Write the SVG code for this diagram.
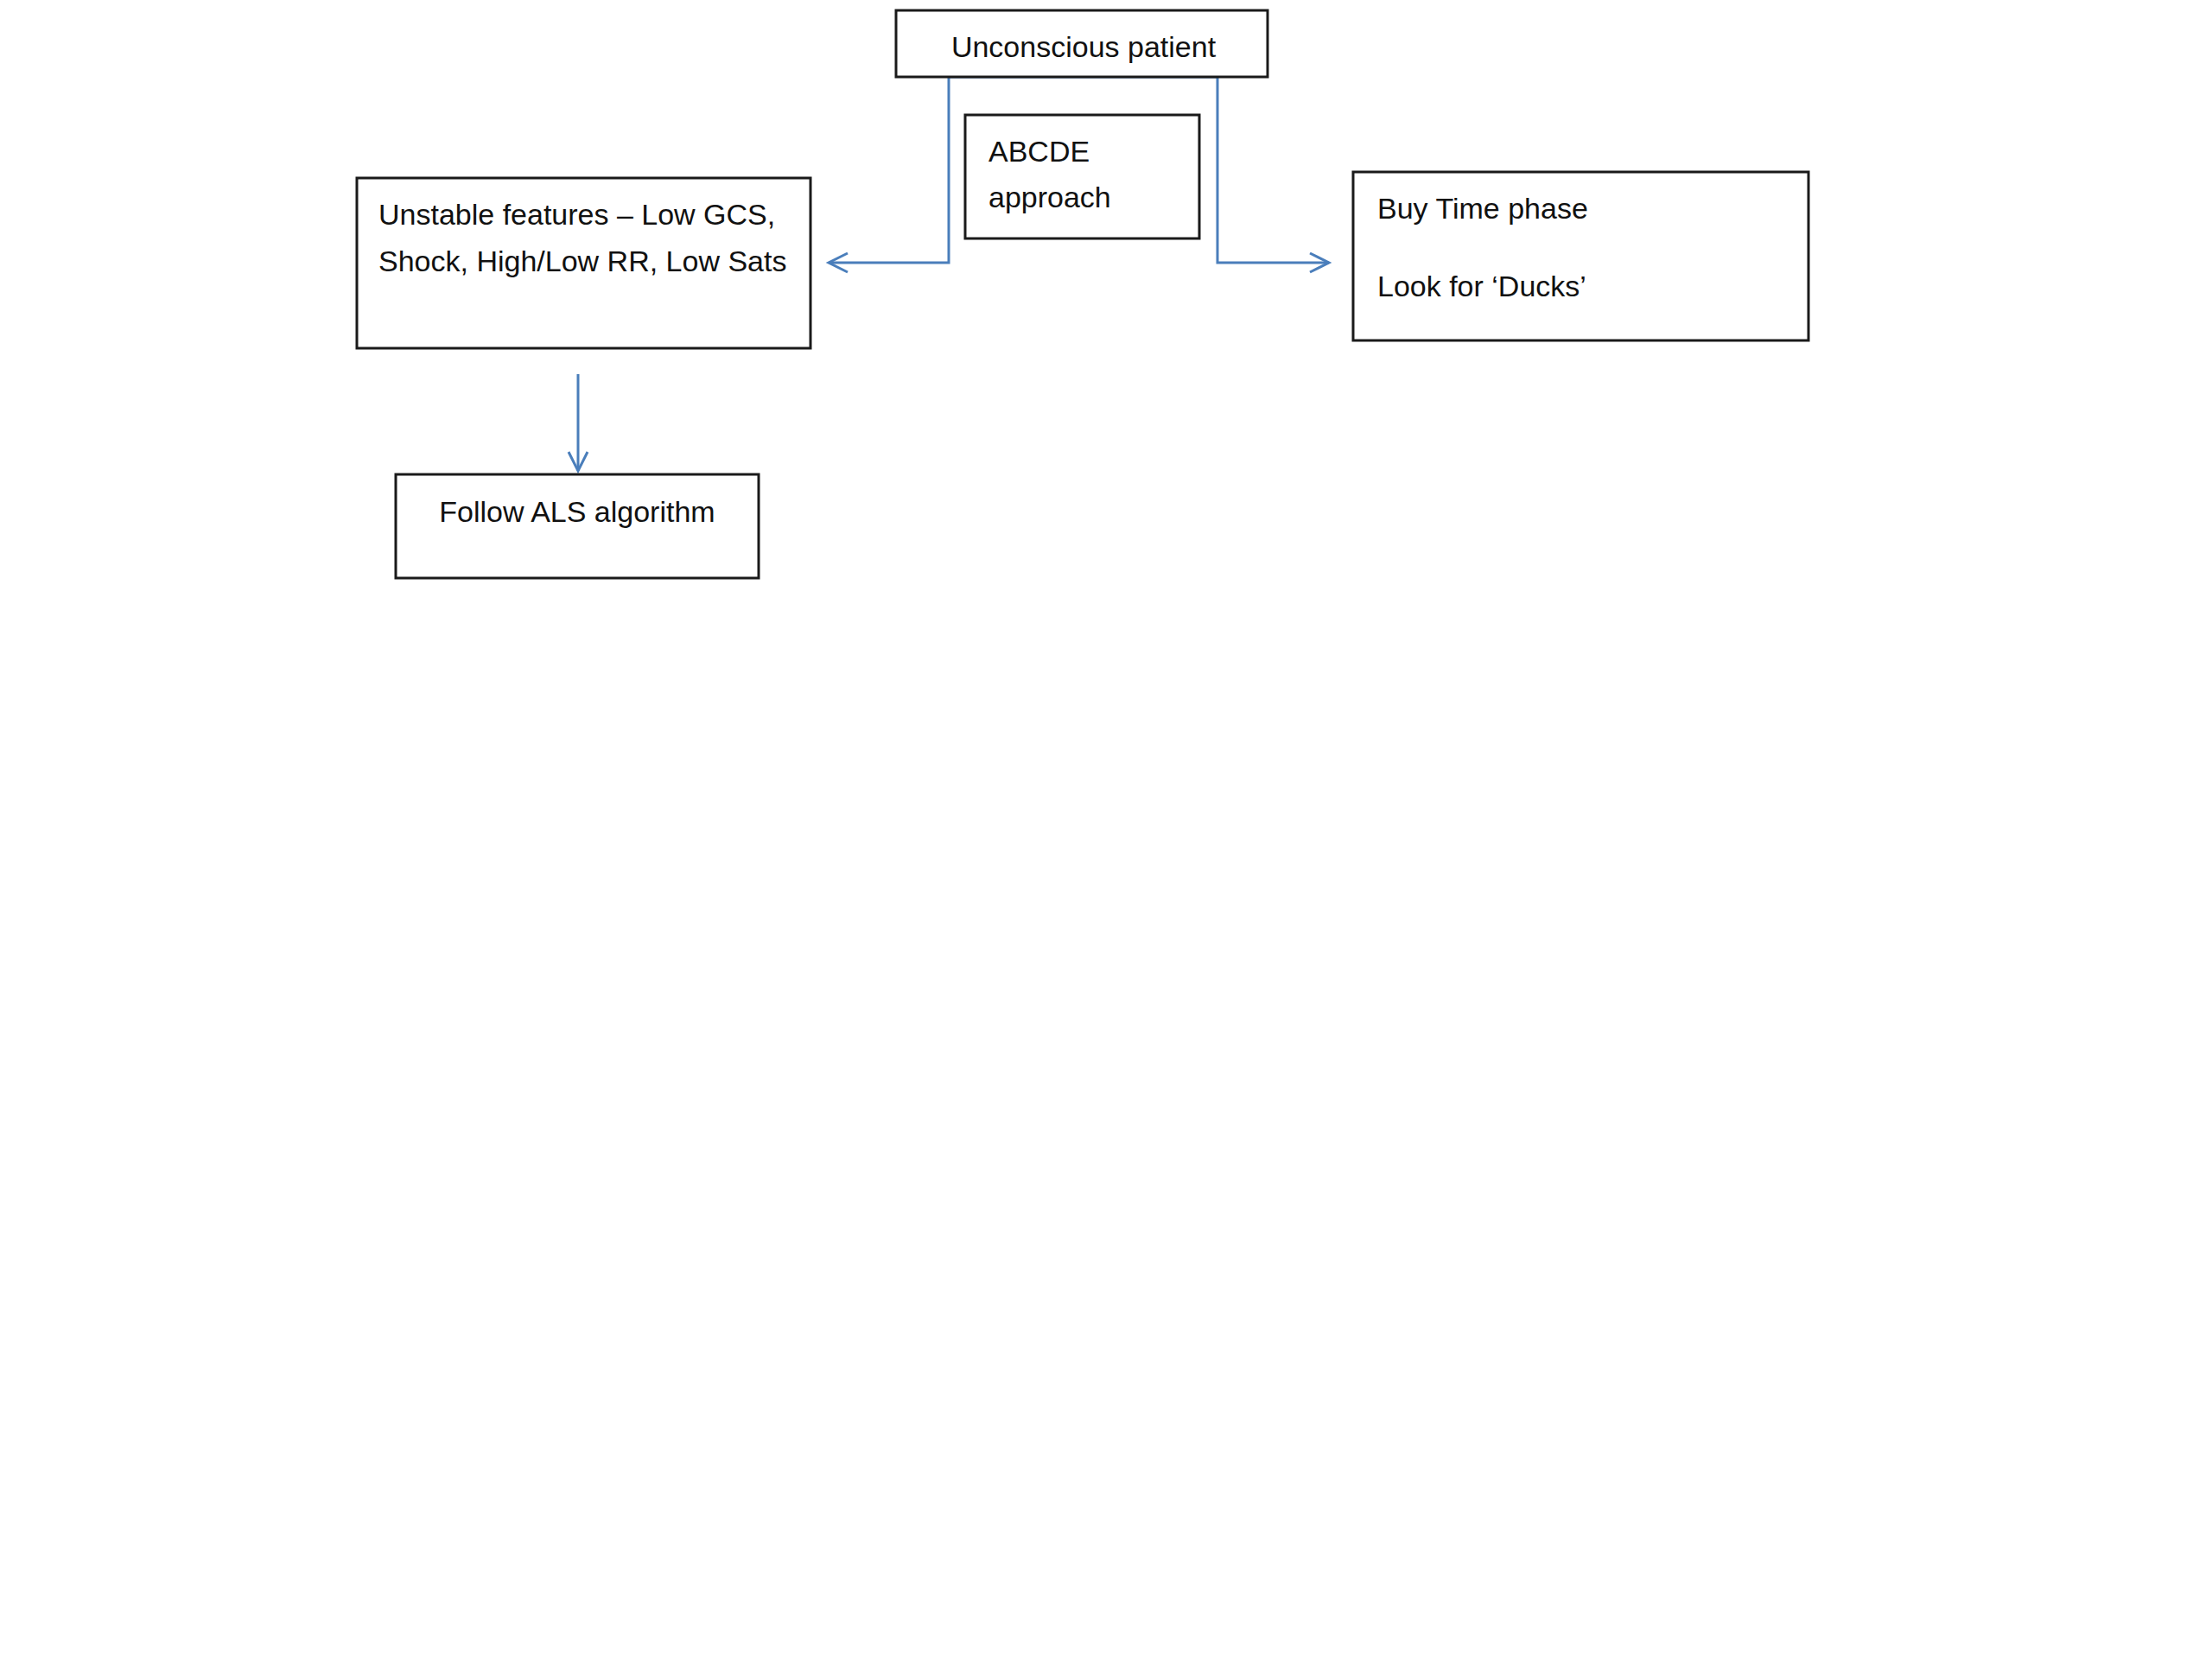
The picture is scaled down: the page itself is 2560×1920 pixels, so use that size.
<svg xmlns="http://www.w3.org/2000/svg" width="2560" height="1920" viewBox="0 0 2560 1920">
<style>
.box{fill:#ffffff;stroke:#1a1a1a;stroke-width:3}
.lbl{font-family:"Liberation Sans",Arial,sans-serif;font-size:34px;fill:#111111}
.conn{fill:none;stroke:#4a7ebb;stroke-width:3}
</style>
<defs>
<marker id="arr" markerUnits="userSpaceOnUse" markerWidth="40" markerHeight="40" viewBox="-30 -20 40 40" refX="0" refY="0" orient="auto">
<path d="M-22,-11 L0,0 L-22,11" fill="none" stroke="#4a7ebb" stroke-width="3"/>
</marker>
</defs>
<rect width="2560" height="1920" fill="#ffffff"/>
<g id="connectors">
<path class="conn" d="M1253,89 H1098 V304 H959" marker-end="url(#arr)"/>
<path class="conn" d="M1253,89 H1409 V304 H1538" marker-end="url(#arr)"/>
<path class="conn" d="M669,433 V545" marker-end="url(#arr)"/>
</g>
<g id="node-unconscious">
<rect class="box" x="1037" y="12" width="430" height="77"/>
<text class="lbl" x="1254" y="66" text-anchor="middle">Unconscious patient</text>
</g>
<g id="node-abcde">
<rect class="box" x="1117" y="133" width="271" height="143"/>
<text class="lbl" x="1144" y="187">ABCDE</text>
<text class="lbl" x="1144" y="240">approach</text>
</g>
<g id="node-unstable">
<rect class="box" x="413" y="206" width="525" height="197"/>
<text class="lbl" x="438" y="260">Unstable features – Low GCS,</text>
<text class="lbl" x="438" y="314">Shock, High/Low RR, Low Sats</text>
</g>
<g id="node-buytime">
<rect class="box" x="1566" y="199" width="527" height="195"/>
<text class="lbl" x="1594" y="253">Buy Time phase</text>
<text class="lbl" x="1594" y="343">Look for ‘Ducks’</text>
</g>
<g id="node-als">
<rect class="box" x="458" y="549" width="420" height="120"/>
<text class="lbl" x="668" y="604" text-anchor="middle">Follow ALS algorithm</text>
</g>
</svg>
